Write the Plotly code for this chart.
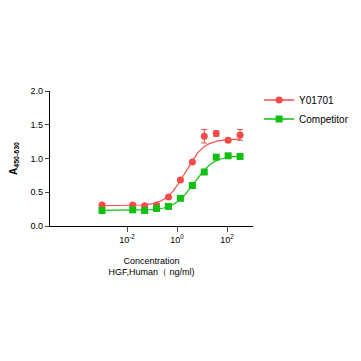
import numpy as np
import plotly.graph_objects as go

conc = [0.001, 0.0169, 0.0508, 0.152, 0.457, 1.372, 4.115, 12.35, 37.04, 111.1, 333.3]
y01701 = [0.31, 0.31, 0.30, 0.31, 0.43, 0.68, 0.95, 1.33, 1.37, 1.27, 1.35]
y01701_err = [0.01, 0.01, 0.01, 0.01, 0.01, 0.01, 0.01, 0.10, 0.04, 0.03, 0.08]
competitor = [0.23, 0.24, 0.23, 0.26, 0.29, 0.41, 0.60, 0.80, 1.02, 1.04, 1.03]

# 4PL fit parameters: bottom, top, EC50, Hill
fit_y01701 = [0.30, 1.29, 2.1, 1.15]
fit_competitor = [0.23, 1.045, 4.8, 1.1]

series_names = ["Y01701", "Competitor"]
x_tickvals = [0.01, 1, 100]
x_ticktext = ["10<sup>-2</sup>", "10<sup>0</sup>", "10<sup>2</sup>"]

RED = "#f44a4a"
GREEN = "#10c010"

def four_pl(x, p):
    b, t, ec, h = p
    x = np.asarray(x)
    return b + (t - b) / (1 + (ec / x) ** h)

xs = np.logspace(np.log10(conc[0]), np.log10(conc[-1]), 300)

fig = go.Figure()
fig.add_trace(go.Scatter(x=xs, y=four_pl(xs, fit_y01701), mode="lines",
                         line=dict(color=RED, width=1.2), showlegend=False, hoverinfo="skip"))
fig.add_trace(go.Scatter(x=xs, y=four_pl(xs, fit_competitor), mode="lines",
                         line=dict(color=GREEN, width=1.2), showlegend=False, hoverinfo="skip"))
fig.add_trace(go.Scatter(x=conc, y=y01701, mode="markers", name=series_names[0],
                         marker=dict(symbol="circle", size=7, color=RED), showlegend=False,
                         error_y=dict(type="data", array=y01701_err, color=RED, thickness=1, width=3)))
fig.add_trace(go.Scatter(x=conc, y=competitor, mode="markers", name=series_names[1],
                         marker=dict(symbol="square", size=7, color=GREEN), showlegend=False))

# legend entries (line + marker, as in the reference legend)
fig.add_trace(go.Scatter(x=[None], y=[None], mode="lines+markers", name=series_names[0],
                         line=dict(color=RED, width=1.5), marker=dict(symbol="circle", size=7, color=RED)))
fig.add_trace(go.Scatter(x=[None], y=[None], mode="lines+markers", name=series_names[1],
                         line=dict(color=GREEN, width=1.5), marker=dict(symbol="square", size=7, color=GREEN)))

fig.update_layout(
    width=361, height=361,
    margin=dict(l=42, r=116, t=83, b=143),
    paper_bgcolor="white", plot_bgcolor="white",
    font=dict(family="Liberation Sans, Arial", size=9, color="black"),
    legend=dict(x=1.03, y=1.04, xanchor="left", yanchor="top", font=dict(size=10),
                bgcolor="rgba(0,0,0,0)", itemwidth=30, tracegroupgap=0),
    xaxis=dict(type="log", range=[-5.08, 3.04], tickvals=x_tickvals, ticktext=x_ticktext,
               showline=True, linecolor="black", linewidth=1.3, ticks="outside", ticklen=5,
               tickwidth=1.3, showgrid=False, zeroline=False, automargin=False,
               title=dict(text="Concentration<br>HGF,Human（ ng/ml)", font=dict(size=9), standoff=13)),
    yaxis=dict(range=[0, 2.0], tickvals=[0, 0.5, 1.0, 1.5, 2.0],
               ticktext=["0.0", "0.5", "1.0", "1.5", "2.0"],
               showline=True, linecolor="black", linewidth=1.3, ticks="outside", ticklen=4,
               tickwidth=1.3, showgrid=False, zeroline=False, automargin=False,
               title=dict(text="<b>A<sub>450-630</sub></b>", font=dict(size=10), standoff=12)),
)

fig.write_html("out.html")
